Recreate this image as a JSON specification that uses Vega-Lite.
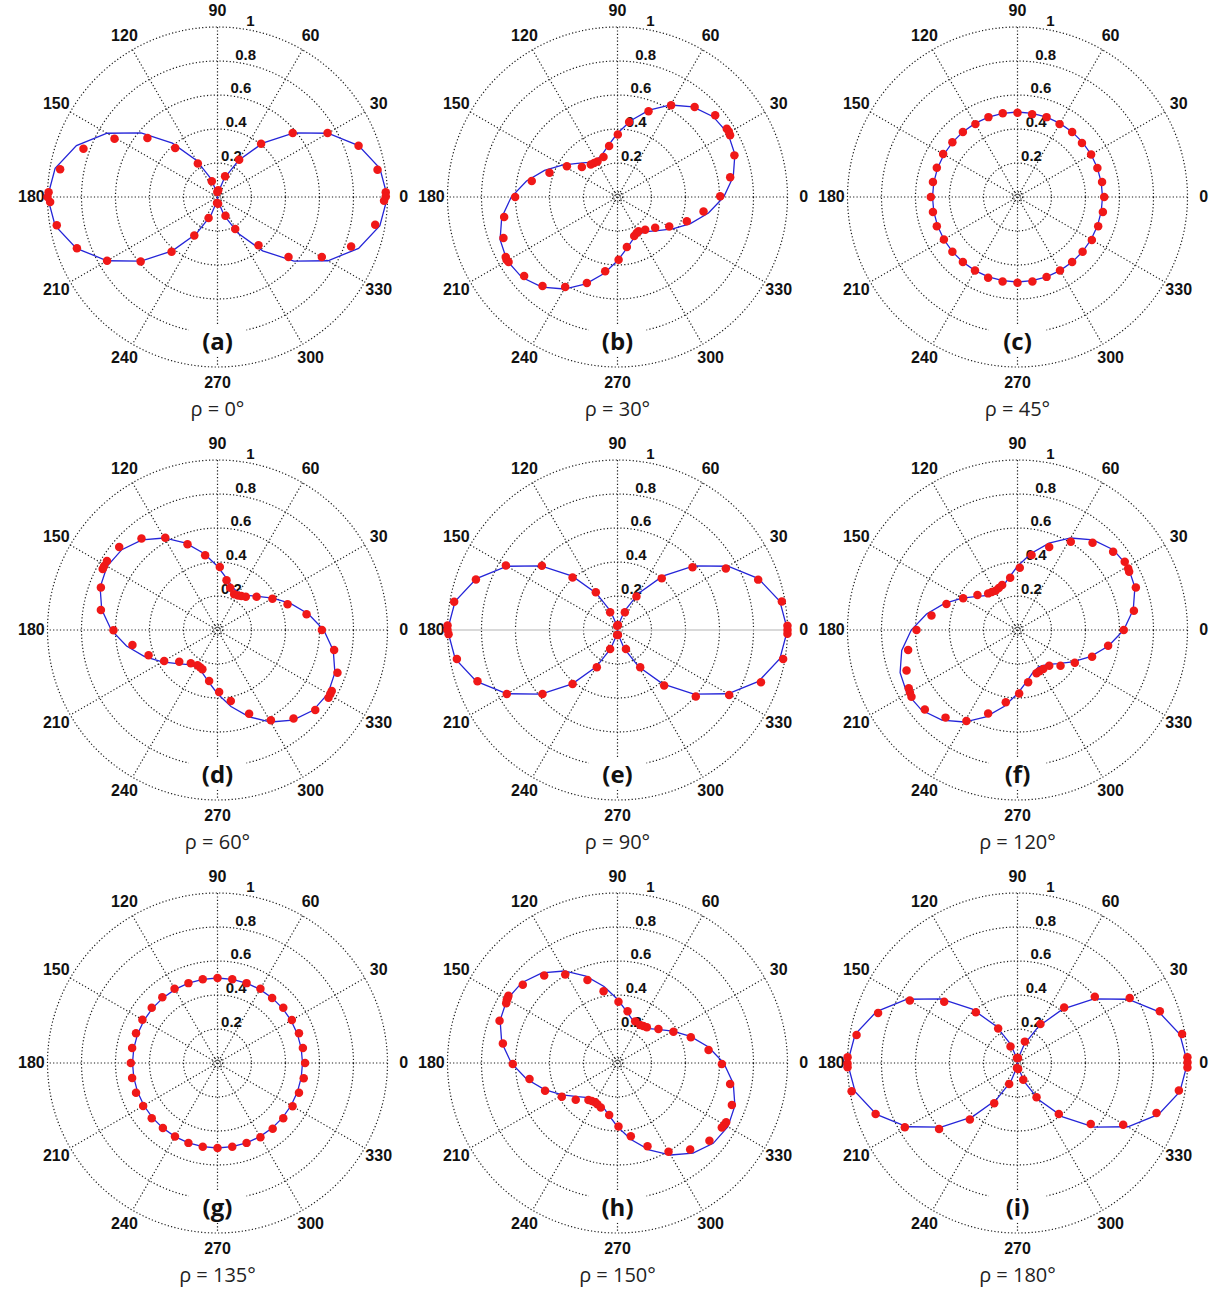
{
"$schema": "https://vega.github.io/schema/vega-lite/v6.json",
"background": "white",
"padding": {"left": 17, "top": 0, "right": 0, "bottom": 0},
"config": {"view": {"stroke": null}},
"data": {"values": [
{"k":"ring","p":["a","b","c","d","e","f","g","h","i"],"r":0.2},
{"k":"ring","p":["a","b","c","d","e","f","g","h","i"],"r":0.4},
{"k":"ring","p":["a","b","c","d","e","f","g","h","i"],"r":0.6},
{"k":"ring","p":["a","b","c","d","e","f","g","h","i"],"r":0.8},
{"k":"ring","p":["a","b","c","d","e","f","g","h","i"],"r":1},
{"k":"ring","p":["a","b","c","d","e","f","g","h","i"],"r":0.03},
{"k":"spoke","p":["a","b","c","d","f","g","h","i"],"t":0},
{"k":"spoke","p":["a","b","c","d","e","f","g","h","i"],"t":30},
{"k":"spoke","p":["a","b","c","d","e","f","g","h","i"],"t":60},
{"k":"spoke","p":["a","b","c","d","e","f","g","h","i"],"t":90},
{"k":"spoke","p":["a","b","c","d","e","f","g","h","i"],"t":120},
{"k":"spoke","p":["a","b","c","d","e","f","g","h","i"],"t":150},
{"k":"hline","p":["e"],"t":0},
{"k":"alab","p":["a","b","c","d","e","f","g","h","i"],"t":0,"lab":"0"},
{"k":"alab","p":["a","b","c","d","e","f","g","h","i"],"t":30,"lab":"30"},
{"k":"alab","p":["a","b","c","d","e","f","g","h","i"],"t":60,"lab":"60"},
{"k":"alab","p":["a","b","c","d","e","f","g","h","i"],"t":90,"lab":"90"},
{"k":"alab","p":["a","b","c","d","e","f","g","h","i"],"t":120,"lab":"120"},
{"k":"alab","p":["a","b","c","d","e","f","g","h","i"],"t":150,"lab":"150"},
{"k":"alab","p":["a","b","c","d","e","f","g","h","i"],"t":180,"lab":"180"},
{"k":"alab","p":["a","b","c","d","e","f","g","h","i"],"t":210,"lab":"210"},
{"k":"alab","p":["a","b","c","d","e","f","g","h","i"],"t":240,"lab":"240"},
{"k":"alab","p":["a","b","c","d","e","f","g","h","i"],"t":270,"lab":"270"},
{"k":"alab","p":["a","b","c","d","e","f","g","h","i"],"t":300,"lab":"300"},
{"k":"alab","p":["a","b","c","d","e","f","g","h","i"],"t":330,"lab":"330"},
{"k":"rlab","p":["a","b","c","d","e","f","g","h","i"],"r":0.2,"lab":"0.2"},
{"k":"rlab","p":["a","b","c","d","e","f","g","h","i"],"r":0.4,"lab":"0.4"},
{"k":"rlab","p":["a","b","c","d","e","f","g","h","i"],"r":0.6,"lab":"0.6"},
{"k":"rlab","p":["a","b","c","d","e","f","g","h","i"],"r":0.8,"lab":"0.8"},
{"k":"rlab","p":["a","b","c","d","e","f","g","h","i"],"r":1,"lab":"1"},
{"k":"cap","p":["a"],"lab":"(a)","rho":"ρ = 0°"},
{"k":"cap","p":["b"],"lab":"(b)","rho":"ρ = 30°"},
{"k":"cap","p":["c"],"lab":"(c)","rho":"ρ = 45°"},
{"k":"cap","p":["d"],"lab":"(d)","rho":"ρ = 60°"},
{"k":"cap","p":["e"],"lab":"(e)","rho":"ρ = 90°"},
{"k":"cap","p":["f"],"lab":"(f)","rho":"ρ = 120°"},
{"k":"cap","p":["g"],"lab":"(g)","rho":"ρ = 135°"},
{"k":"cap","p":["h"],"lab":"(h)","rho":"ρ = 150°"},
{"k":"cap","p":["i"],"lab":"(i)","rho":"ρ = 180°"},

{"k":"fit","p":["a","e","i"],"t":0,"r":1},
{"k":"fit","p":["a","e","i"],"t":10,"r":0.9698},
{"k":"fit","p":["a","e","i"],"t":20,"r":0.883},
{"k":"fit","p":["a","e","i"],"t":30,"r":0.75},
{"k":"fit","p":["a","e","i"],"t":40,"r":0.5868},
{"k":"fit","p":["a","e","i"],"t":50,"r":0.4132},
{"k":"fit","p":["a","e","i"],"t":60,"r":0.25},
{"k":"fit","p":["a","e","i"],"t":70,"r":0.117},
{"k":"fit","p":["a","e","i"],"t":80,"r":0.0302},
{"k":"fit","p":["a","e","i"],"t":90,"r":0},
{"k":"fit","p":["a","e","i"],"t":100,"r":0.0302},
{"k":"fit","p":["a","e","i"],"t":110,"r":0.117},
{"k":"fit","p":["a","e","i"],"t":120,"r":0.25},
{"k":"fit","p":["a","e","i"],"t":130,"r":0.4132},
{"k":"fit","p":["a","e","i"],"t":140,"r":0.5868},
{"k":"fit","p":["a","e","i"],"t":150,"r":0.75},
{"k":"fit","p":["a","e","i"],"t":160,"r":0.883},
{"k":"fit","p":["a","e","i"],"t":170,"r":0.9698},
{"k":"fit","p":["a","e","i"],"t":180,"r":1},
{"k":"fit","p":["a","e","i"],"t":190,"r":0.9698},
{"k":"fit","p":["a","e","i"],"t":200,"r":0.883},
{"k":"fit","p":["a","e","i"],"t":210,"r":0.75},
{"k":"fit","p":["a","e","i"],"t":220,"r":0.5868},
{"k":"fit","p":["a","e","i"],"t":230,"r":0.4132},
{"k":"fit","p":["a","e","i"],"t":240,"r":0.25},
{"k":"fit","p":["a","e","i"],"t":250,"r":0.117},
{"k":"fit","p":["a","e","i"],"t":260,"r":0.0302},
{"k":"fit","p":["a","e","i"],"t":270,"r":0},
{"k":"fit","p":["a","e","i"],"t":280,"r":0.0302},
{"k":"fit","p":["a","e","i"],"t":290,"r":0.117},
{"k":"fit","p":["a","e","i"],"t":300,"r":0.25},
{"k":"fit","p":["a","e","i"],"t":310,"r":0.4132},
{"k":"fit","p":["a","e","i"],"t":320,"r":0.5868},
{"k":"fit","p":["a","e","i"],"t":330,"r":0.75},
{"k":"fit","p":["a","e","i"],"t":340,"r":0.883},
{"k":"fit","p":["a","e","i"],"t":350,"r":0.9698},
{"k":"fit","p":["a","e","i"],"t":360,"r":1},

{"k":"fit","p":["b","f"],"t":0,"r":0.625},
{"k":"fit","p":["b","f"],"t":10,"r":0.6915},
{"k":"fit","p":["b","f"],"t":20,"r":0.7349},
{"k":"fit","p":["b","f"],"t":30,"r":0.75},
{"k":"fit","p":["b","f"],"t":40,"r":0.7349},
{"k":"fit","p":["b","f"],"t":50,"r":0.6915},
{"k":"fit","p":["b","f"],"t":60,"r":0.625},
{"k":"fit","p":["b","f"],"t":70,"r":0.5434},
{"k":"fit","p":["b","f"],"t":80,"r":0.4566},
{"k":"fit","p":["b","f"],"t":90,"r":0.375},
{"k":"fit","p":["b","f"],"t":100,"r":0.3085},
{"k":"fit","p":["b","f"],"t":110,"r":0.2651},
{"k":"fit","p":["b","f"],"t":120,"r":0.25},
{"k":"fit","p":["b","f"],"t":130,"r":0.2651},
{"k":"fit","p":["b","f"],"t":140,"r":0.3085},
{"k":"fit","p":["b","f"],"t":150,"r":0.375},
{"k":"fit","p":["b","f"],"t":160,"r":0.4566},
{"k":"fit","p":["b","f"],"t":170,"r":0.5434},
{"k":"fit","p":["b","f"],"t":180,"r":0.625},
{"k":"fit","p":["b","f"],"t":190,"r":0.6915},
{"k":"fit","p":["b","f"],"t":200,"r":0.7349},
{"k":"fit","p":["b","f"],"t":210,"r":0.75},
{"k":"fit","p":["b","f"],"t":220,"r":0.7349},
{"k":"fit","p":["b","f"],"t":230,"r":0.6915},
{"k":"fit","p":["b","f"],"t":240,"r":0.625},
{"k":"fit","p":["b","f"],"t":250,"r":0.5434},
{"k":"fit","p":["b","f"],"t":260,"r":0.4566},
{"k":"fit","p":["b","f"],"t":270,"r":0.375},
{"k":"fit","p":["b","f"],"t":280,"r":0.3085},
{"k":"fit","p":["b","f"],"t":290,"r":0.2651},
{"k":"fit","p":["b","f"],"t":300,"r":0.25},
{"k":"fit","p":["b","f"],"t":310,"r":0.2651},
{"k":"fit","p":["b","f"],"t":320,"r":0.3085},
{"k":"fit","p":["b","f"],"t":330,"r":0.375},
{"k":"fit","p":["b","f"],"t":340,"r":0.4566},
{"k":"fit","p":["b","f"],"t":350,"r":0.5434},
{"k":"fit","p":["b","f"],"t":360,"r":0.625},

{"k":"fit","p":["c","g"],"t":0,"r":0.5},
{"k":"fit","p":["c","g"],"t":10,"r":0.5},
{"k":"fit","p":["c","g"],"t":20,"r":0.5},
{"k":"fit","p":["c","g"],"t":30,"r":0.5},
{"k":"fit","p":["c","g"],"t":40,"r":0.5},
{"k":"fit","p":["c","g"],"t":50,"r":0.5},
{"k":"fit","p":["c","g"],"t":60,"r":0.5},
{"k":"fit","p":["c","g"],"t":70,"r":0.5},
{"k":"fit","p":["c","g"],"t":80,"r":0.5},
{"k":"fit","p":["c","g"],"t":90,"r":0.5},
{"k":"fit","p":["c","g"],"t":100,"r":0.5},
{"k":"fit","p":["c","g"],"t":110,"r":0.5},
{"k":"fit","p":["c","g"],"t":120,"r":0.5},
{"k":"fit","p":["c","g"],"t":130,"r":0.5},
{"k":"fit","p":["c","g"],"t":140,"r":0.5},
{"k":"fit","p":["c","g"],"t":150,"r":0.5},
{"k":"fit","p":["c","g"],"t":160,"r":0.5},
{"k":"fit","p":["c","g"],"t":170,"r":0.5},
{"k":"fit","p":["c","g"],"t":180,"r":0.5},
{"k":"fit","p":["c","g"],"t":190,"r":0.5},
{"k":"fit","p":["c","g"],"t":200,"r":0.5},
{"k":"fit","p":["c","g"],"t":210,"r":0.5},
{"k":"fit","p":["c","g"],"t":220,"r":0.5},
{"k":"fit","p":["c","g"],"t":230,"r":0.5},
{"k":"fit","p":["c","g"],"t":240,"r":0.5},
{"k":"fit","p":["c","g"],"t":250,"r":0.5},
{"k":"fit","p":["c","g"],"t":260,"r":0.5},
{"k":"fit","p":["c","g"],"t":270,"r":0.5},
{"k":"fit","p":["c","g"],"t":280,"r":0.5},
{"k":"fit","p":["c","g"],"t":290,"r":0.5},
{"k":"fit","p":["c","g"],"t":300,"r":0.5},
{"k":"fit","p":["c","g"],"t":310,"r":0.5},
{"k":"fit","p":["c","g"],"t":320,"r":0.5},
{"k":"fit","p":["c","g"],"t":330,"r":0.5},
{"k":"fit","p":["c","g"],"t":340,"r":0.5},
{"k":"fit","p":["c","g"],"t":350,"r":0.5},
{"k":"fit","p":["c","g"],"t":360,"r":0.5},

{"k":"fit","p":["d","h"],"t":0,"r":0.625},
{"k":"fit","p":["d","h"],"t":10,"r":0.5434},
{"k":"fit","p":["d","h"],"t":20,"r":0.4566},
{"k":"fit","p":["d","h"],"t":30,"r":0.375},
{"k":"fit","p":["d","h"],"t":40,"r":0.3085},
{"k":"fit","p":["d","h"],"t":50,"r":0.2651},
{"k":"fit","p":["d","h"],"t":60,"r":0.25},
{"k":"fit","p":["d","h"],"t":70,"r":0.2651},
{"k":"fit","p":["d","h"],"t":80,"r":0.3085},
{"k":"fit","p":["d","h"],"t":90,"r":0.375},
{"k":"fit","p":["d","h"],"t":100,"r":0.4566},
{"k":"fit","p":["d","h"],"t":110,"r":0.5434},
{"k":"fit","p":["d","h"],"t":120,"r":0.625},
{"k":"fit","p":["d","h"],"t":130,"r":0.6915},
{"k":"fit","p":["d","h"],"t":140,"r":0.7349},
{"k":"fit","p":["d","h"],"t":150,"r":0.75},
{"k":"fit","p":["d","h"],"t":160,"r":0.7349},
{"k":"fit","p":["d","h"],"t":170,"r":0.6915},
{"k":"fit","p":["d","h"],"t":180,"r":0.625},
{"k":"fit","p":["d","h"],"t":190,"r":0.5434},
{"k":"fit","p":["d","h"],"t":200,"r":0.4566},
{"k":"fit","p":["d","h"],"t":210,"r":0.375},
{"k":"fit","p":["d","h"],"t":220,"r":0.3085},
{"k":"fit","p":["d","h"],"t":230,"r":0.2651},
{"k":"fit","p":["d","h"],"t":240,"r":0.25},
{"k":"fit","p":["d","h"],"t":250,"r":0.2651},
{"k":"fit","p":["d","h"],"t":260,"r":0.3085},
{"k":"fit","p":["d","h"],"t":270,"r":0.375},
{"k":"fit","p":["d","h"],"t":280,"r":0.4566},
{"k":"fit","p":["d","h"],"t":290,"r":0.5434},
{"k":"fit","p":["d","h"],"t":300,"r":0.625},
{"k":"fit","p":["d","h"],"t":310,"r":0.6915},
{"k":"fit","p":["d","h"],"t":320,"r":0.7349},
{"k":"fit","p":["d","h"],"t":330,"r":0.75},
{"k":"fit","p":["d","h"],"t":340,"r":0.7349},
{"k":"fit","p":["d","h"],"t":350,"r":0.6915},
{"k":"fit","p":["d","h"],"t":360,"r":0.625},

{"k":"pt","p":["a"],"t":1.6,"r":0.99},
{"k":"pt","p":["a"],"t":0.2,"r":0.99},
{"k":"pt","p":["a"],"t":358.7,"r":0.98},
{"k":"pt","p":["a"],"t":9.7,"r":0.955},
{"k":"pt","p":["a"],"t":20,"r":0.883},
{"k":"pt","p":["a"],"t":30.2,"r":0.749},
{"k":"pt","p":["a"],"t":40.4,"r":0.581},
{"k":"pt","p":["a"],"t":50.7,"r":0.405},
{"k":"pt","p":["a"],"t":59.9,"r":0.254},
{"k":"pt","p":["a"],"t":70,"r":0.13},
{"k":"pt","p":["a"],"t":84,"r":0.04},
{"k":"pt","p":["a"],"t":92,"r":0.03},
{"k":"pt","p":["a"],"t":110,"r":0.098},
{"k":"pt","p":["a"],"t":120.5,"r":0.228},
{"k":"pt","p":["a"],"t":130.8,"r":0.381},
{"k":"pt","p":["a"],"t":139.9,"r":0.539},
{"k":"pt","p":["a"],"t":150.5,"r":0.696},
{"k":"pt","p":["a"],"t":160.2,"r":0.838},
{"k":"pt","p":["a"],"t":170,"r":0.94},
{"k":"pt","p":["a"],"t":178.4,"r":0.994},
{"k":"pt","p":["a"],"t":180,"r":1},
{"k":"pt","p":["a"],"t":181.7,"r":0.985},
{"k":"pt","p":["a"],"t":190,"r":0.96},
{"k":"pt","p":["a"],"t":200,"r":0.88},
{"k":"pt","p":["a"],"t":210,"r":0.75},
{"k":"pt","p":["a"],"t":220,"r":0.59},
{"k":"pt","p":["a"],"t":230,"r":0.42},
{"k":"pt","p":["a"],"t":239,"r":0.265},
{"k":"pt","p":["a"],"t":247,"r":0.134},
{"k":"pt","p":["a"],"t":265,"r":0.035},
{"k":"pt","p":["a"],"t":275,"r":0.04},
{"k":"pt","p":["a"],"t":293,"r":0.12},
{"k":"pt","p":["a"],"t":299,"r":0.215},
{"k":"pt","p":["a"],"t":310.3,"r":0.373},
{"k":"pt","p":["a"],"t":319.8,"r":0.547},
{"k":"pt","p":["a"],"t":330.1,"r":0.708},
{"k":"pt","p":["a"],"t":339.7,"r":0.838},
{"k":"pt","p":["a"],"t":350,"r":0.942},

{"k":"pt","p":["b"],"t":0.4,"r":0.604},
{"k":"pt","p":["b"],"t":10,"r":0.673},
{"k":"pt","p":["b"],"t":19.6,"r":0.73},
{"k":"pt","p":["b"],"t":28.7,"r":0.755},
{"k":"pt","p":["b"],"t":30.5,"r":0.76},
{"k":"pt","p":["b"],"t":32,"r":0.758},
{"k":"pt","p":["b"],"t":39.9,"r":0.749},
{"k":"pt","p":["b"],"t":49.4,"r":0.697},
{"k":"pt","p":["b"],"t":59.7,"r":0.625},
{"k":"pt","p":["b"],"t":70.1,"r":0.536},
{"k":"pt","p":["b"],"t":81.2,"r":0.447},
{"k":"pt","p":["b"],"t":89.7,"r":0.367},
{"k":"pt","p":["b"],"t":99.3,"r":0.304},
{"k":"pt","p":["b"],"t":109.3,"r":0.249},
{"k":"pt","p":["b"],"t":119.3,"r":0.24},
{"k":"pt","p":["b"],"t":124.5,"r":0.243},
{"k":"pt","p":["b"],"t":129.5,"r":0.247},
{"k":"pt","p":["b"],"t":139.9,"r":0.274},
{"k":"pt","p":["b"],"t":148.8,"r":0.348},
{"k":"pt","p":["b"],"t":160.3,"r":0.425},
{"k":"pt","p":["b"],"t":169.4,"r":0.513},
{"k":"pt","p":["b"],"t":180,"r":0.602},
{"k":"pt","p":["b"],"t":190,"r":0.677},
{"k":"pt","p":["b"],"t":199.8,"r":0.713},
{"k":"pt","p":["b"],"t":208.2,"r":0.746},
{"k":"pt","p":["b"],"t":209.5,"r":0.75},
{"k":"pt","p":["b"],"t":210.8,"r":0.746},
{"k":"pt","p":["b"],"t":220.2,"r":0.719},
{"k":"pt","p":["b"],"t":229.9,"r":0.685},
{"k":"pt","p":["b"],"t":239.8,"r":0.612},
{"k":"pt","p":["b"],"t":250.4,"r":0.537},
{"k":"pt","p":["b"],"t":260.6,"r":0.443},
{"k":"pt","p":["b"],"t":271,"r":0.369},
{"k":"pt","p":["b"],"t":280.6,"r":0.299},
{"k":"pt","p":["b"],"t":293.1,"r":0.25},
{"k":"pt","p":["b"],"t":298,"r":0.24},
{"k":"pt","p":["b"],"t":301.5,"r":0.237},
{"k":"pt","p":["b"],"t":310.3,"r":0.252},
{"k":"pt","p":["b"],"t":320.8,"r":0.286},
{"k":"pt","p":["b"],"t":330.4,"r":0.35},
{"k":"pt","p":["b"],"t":340.7,"r":0.432},
{"k":"pt","p":["b"],"t":350.5,"r":0.513},

{"k":"pt","p":["c"],"t":0,"r":0.51},
{"k":"pt","p":["c"],"t":10,"r":0.505},
{"k":"pt","p":["c"],"t":20,"r":0.5},
{"k":"pt","p":["c"],"t":30,"r":0.5},
{"k":"pt","p":["c"],"t":40,"r":0.495},
{"k":"pt","p":["c"],"t":50,"r":0.5},
{"k":"pt","p":["c"],"t":60,"r":0.495},
{"k":"pt","p":["c"],"t":70,"r":0.5},
{"k":"pt","p":["c"],"t":80,"r":0.495},
{"k":"pt","p":["c"],"t":90,"r":0.495},
{"k":"pt","p":["c"],"t":100,"r":0.5},
{"k":"pt","p":["c"],"t":110,"r":0.5},
{"k":"pt","p":["c"],"t":120,"r":0.495},
{"k":"pt","p":["c"],"t":130,"r":0.5},
{"k":"pt","p":["c"],"t":140,"r":0.5},
{"k":"pt","p":["c"],"t":150,"r":0.505},
{"k":"pt","p":["c"],"t":160,"r":0.505},
{"k":"pt","p":["c"],"t":170,"r":0.505},
{"k":"pt","p":["c"],"t":180,"r":0.51},
{"k":"pt","p":["c"],"t":190,"r":0.505},
{"k":"pt","p":["c"],"t":200,"r":0.505},
{"k":"pt","p":["c"],"t":210,"r":0.5},
{"k":"pt","p":["c"],"t":220,"r":0.5},
{"k":"pt","p":["c"],"t":230,"r":0.5},
{"k":"pt","p":["c"],"t":240,"r":0.5},
{"k":"pt","p":["c"],"t":250,"r":0.505},
{"k":"pt","p":["c"],"t":260,"r":0.505},
{"k":"pt","p":["c"],"t":270,"r":0.505},
{"k":"pt","p":["c"],"t":280,"r":0.505},
{"k":"pt","p":["c"],"t":290,"r":0.5},
{"k":"pt","p":["c"],"t":300,"r":0.5},
{"k":"pt","p":["c"],"t":310,"r":0.5},
{"k":"pt","p":["c"],"t":320,"r":0.5},
{"k":"pt","p":["c"],"t":330,"r":0.505},
{"k":"pt","p":["c"],"t":340,"r":0.505},
{"k":"pt","p":["c"],"t":350,"r":0.51},

{"k":"pt","p":["d"],"t":0,"r":0.614},
{"k":"pt","p":["d"],"t":10,"r":0.532},
{"k":"pt","p":["d"],"t":20.1,"r":0.439},
{"k":"pt","p":["d"],"t":29.7,"r":0.372},
{"k":"pt","p":["d"],"t":40.5,"r":0.302},
{"k":"pt","p":["d"],"t":49.6,"r":0.257},
{"k":"pt","p":["d"],"t":55,"r":0.245},
{"k":"pt","p":["d"],"t":59,"r":0.236},
{"k":"pt","p":["d"],"t":65,"r":0.232},
{"k":"pt","p":["d"],"t":73.3,"r":0.26},
{"k":"pt","p":["d"],"t":79.7,"r":0.297},
{"k":"pt","p":["d"],"t":87.9,"r":0.371},
{"k":"pt","p":["d"],"t":99.4,"r":0.445},
{"k":"pt","p":["d"],"t":109.3,"r":0.534},
{"k":"pt","p":["d"],"t":119.5,"r":0.624},
{"k":"pt","p":["d"],"t":129.7,"r":0.7},
{"k":"pt","p":["d"],"t":139.8,"r":0.757},
{"k":"pt","p":["d"],"t":148,"r":0.767},
{"k":"pt","p":["d"],"t":150.5,"r":0.766},
{"k":"pt","p":["d"],"t":152,"r":0.765},
{"k":"pt","p":["d"],"t":160,"r":0.73},
{"k":"pt","p":["d"],"t":170.3,"r":0.696},
{"k":"pt","p":["d"],"t":180.2,"r":0.612},
{"k":"pt","p":["d"],"t":190,"r":0.508},
{"k":"pt","p":["d"],"t":200.2,"r":0.432},
{"k":"pt","p":["d"],"t":210.2,"r":0.363},
{"k":"pt","p":["d"],"t":219.6,"r":0.292},
{"k":"pt","p":["d"],"t":231.3,"r":0.251},
{"k":"pt","p":["d"],"t":240.5,"r":0.239},
{"k":"pt","p":["d"],"t":245,"r":0.242},
{"k":"pt","p":["d"],"t":249,"r":0.248},
{"k":"pt","p":["d"],"t":260.7,"r":0.304},
{"k":"pt","p":["d"],"t":271.5,"r":0.365},
{"k":"pt","p":["d"],"t":280.6,"r":0.425},
{"k":"pt","p":["d"],"t":290.7,"r":0.526},
{"k":"pt","p":["d"],"t":300.6,"r":0.617},
{"k":"pt","p":["d"],"t":310.7,"r":0.686},
{"k":"pt","p":["d"],"t":320.7,"r":0.743},
{"k":"pt","p":["d"],"t":328.6,"r":0.765},
{"k":"pt","p":["d"],"t":330.5,"r":0.763},
{"k":"pt","p":["d"],"t":331.9,"r":0.762},
{"k":"pt","p":["d"],"t":340.4,"r":0.749},
{"k":"pt","p":["d"],"t":350.3,"r":0.696},

{"k":"pt","p":["e"],"t":1.4,"r":1},
{"k":"pt","p":["e"],"t":0,"r":1},
{"k":"pt","p":["e"],"t":358.7,"r":1},
{"k":"pt","p":["e"],"t":9.8,"r":0.981},
{"k":"pt","p":["e"],"t":19.7,"r":0.879},
{"k":"pt","p":["e"],"t":29.6,"r":0.733},
{"k":"pt","p":["e"],"t":39.9,"r":0.575},
{"k":"pt","p":["e"],"t":49.4,"r":0.4},
{"k":"pt","p":["e"],"t":60.6,"r":0.227},
{"k":"pt","p":["e"],"t":67.5,"r":0.113},
{"k":"pt","p":["e"],"t":85,"r":0.03},
{"k":"pt","p":["e"],"t":95,"r":0.025},
{"k":"pt","p":["e"],"t":112.5,"r":0.113},
{"k":"pt","p":["e"],"t":119.9,"r":0.256},
{"k":"pt","p":["e"],"t":130.5,"r":0.407},
{"k":"pt","p":["e"],"t":139.6,"r":0.584},
{"k":"pt","p":["e"],"t":150,"r":0.758},
{"k":"pt","p":["e"],"t":160.4,"r":0.884},
{"k":"pt","p":["e"],"t":170.2,"r":0.975},
{"k":"pt","p":["e"],"t":178.5,"r":1},
{"k":"pt","p":["e"],"t":180,"r":1},
{"k":"pt","p":["e"],"t":181.4,"r":0.994},
{"k":"pt","p":["e"],"t":190.2,"r":0.96},
{"k":"pt","p":["e"],"t":200.1,"r":0.877},
{"k":"pt","p":["e"],"t":210,"r":0.752},
{"k":"pt","p":["e"],"t":220.5,"r":0.58},
{"k":"pt","p":["e"],"t":230.2,"r":0.413},
{"k":"pt","p":["e"],"t":241,"r":0.251},
{"k":"pt","p":["e"],"t":248.9,"r":0.12},
{"k":"pt","p":["e"],"t":265,"r":0.03},
{"k":"pt","p":["e"],"t":275,"r":0.03},
{"k":"pt","p":["e"],"t":294,"r":0.122},
{"k":"pt","p":["e"],"t":301.3,"r":0.257},
{"k":"pt","p":["e"],"t":310,"r":0.427},
{"k":"pt","p":["e"],"t":319.7,"r":0.604},
{"k":"pt","p":["e"],"t":329.8,"r":0.76},
{"k":"pt","p":["e"],"t":340,"r":0.898},
{"k":"pt","p":["e"],"t":350.1,"r":0.989},

{"k":"pt","p":["f"],"t":0,"r":0.625},
{"k":"pt","p":["f"],"t":9.4,"r":0.694},
{"k":"pt","p":["f"],"t":19.8,"r":0.74},
{"k":"pt","p":["f"],"t":27.6,"r":0.741},
{"k":"pt","p":["f"],"t":29.1,"r":0.745},
{"k":"pt","p":["f"],"t":32.5,"r":0.748},
{"k":"pt","p":["f"],"t":39.3,"r":0.727},
{"k":"pt","p":["f"],"t":49.3,"r":0.677},
{"k":"pt","p":["f"],"t":58.9,"r":0.607},
{"k":"pt","p":["f"],"t":69.1,"r":0.523},
{"k":"pt","p":["f"],"t":79.4,"r":0.449},
{"k":"pt","p":["f"],"t":87.9,"r":0.367},
{"k":"pt","p":["f"],"t":98,"r":0.31},
{"k":"pt","p":["f"],"t":108.8,"r":0.28},
{"k":"pt","p":["f"],"t":114,"r":0.27},
{"k":"pt","p":["f"],"t":119.2,"r":0.265},
{"k":"pt","p":["f"],"t":124,"r":0.27},
{"k":"pt","p":["f"],"t":128.7,"r":0.276},
{"k":"pt","p":["f"],"t":138.8,"r":0.313},
{"k":"pt","p":["f"],"t":149.8,"r":0.37},
{"k":"pt","p":["f"],"t":159.9,"r":0.445},
{"k":"pt","p":["f"],"t":170.5,"r":0.513},
{"k":"pt","p":["f"],"t":180,"r":0.594},
{"k":"pt","p":["f"],"t":190.4,"r":0.654},
{"k":"pt","p":["f"],"t":200.1,"r":0.695},
{"k":"pt","p":["f"],"t":208.2,"r":0.726},
{"k":"pt","p":["f"],"t":210.2,"r":0.732},
{"k":"pt","p":["f"],"t":212.2,"r":0.737},
{"k":"pt","p":["f"],"t":220.6,"r":0.718},
{"k":"pt","p":["f"],"t":230.6,"r":0.667},
{"k":"pt","p":["f"],"t":240.7,"r":0.614},
{"k":"pt","p":["f"],"t":250.6,"r":0.52},
{"k":"pt","p":["f"],"t":260.8,"r":0.431},
{"k":"pt","p":["f"],"t":271.5,"r":0.373},
{"k":"pt","p":["f"],"t":281.5,"r":0.314},
{"k":"pt","p":["f"],"t":293.7,"r":0.278},
{"k":"pt","p":["f"],"t":298,"r":0.275},
{"k":"pt","p":["f"],"t":303.4,"r":0.275},
{"k":"pt","p":["f"],"t":311.6,"r":0.281},
{"k":"pt","p":["f"],"t":320.3,"r":0.329},
{"k":"pt","p":["f"],"t":330.3,"r":0.388},
{"k":"pt","p":["f"],"t":340.3,"r":0.466},
{"k":"pt","p":["f"],"t":350.2,"r":0.541},

{"k":"pt","p":["g"],"t":0,"r":0.515},
{"k":"pt","p":["g"],"t":10,"r":0.51},
{"k":"pt","p":["g"],"t":20,"r":0.51},
{"k":"pt","p":["g"],"t":30,"r":0.505},
{"k":"pt","p":["g"],"t":40,"r":0.505},
{"k":"pt","p":["g"],"t":50,"r":0.5},
{"k":"pt","p":["g"],"t":60,"r":0.505},
{"k":"pt","p":["g"],"t":70,"r":0.5},
{"k":"pt","p":["g"],"t":80,"r":0.5},
{"k":"pt","p":["g"],"t":90,"r":0.5},
{"k":"pt","p":["g"],"t":100,"r":0.5},
{"k":"pt","p":["g"],"t":110,"r":0.5},
{"k":"pt","p":["g"],"t":120,"r":0.505},
{"k":"pt","p":["g"],"t":130,"r":0.505},
{"k":"pt","p":["g"],"t":140,"r":0.505},
{"k":"pt","p":["g"],"t":150,"r":0.51},
{"k":"pt","p":["g"],"t":160,"r":0.51},
{"k":"pt","p":["g"],"t":170,"r":0.51},
{"k":"pt","p":["g"],"t":180,"r":0.51},
{"k":"pt","p":["g"],"t":190,"r":0.51},
{"k":"pt","p":["g"],"t":200,"r":0.51},
{"k":"pt","p":["g"],"t":210,"r":0.505},
{"k":"pt","p":["g"],"t":220,"r":0.505},
{"k":"pt","p":["g"],"t":230,"r":0.5},
{"k":"pt","p":["g"],"t":240,"r":0.5},
{"k":"pt","p":["g"],"t":250,"r":0.5},
{"k":"pt","p":["g"],"t":260,"r":0.5},
{"k":"pt","p":["g"],"t":270,"r":0.5},
{"k":"pt","p":["g"],"t":280,"r":0.5},
{"k":"pt","p":["g"],"t":290,"r":0.5},
{"k":"pt","p":["g"],"t":300,"r":0.505},
{"k":"pt","p":["g"],"t":310,"r":0.505},
{"k":"pt","p":["g"],"t":320,"r":0.505},
{"k":"pt","p":["g"],"t":330,"r":0.51},
{"k":"pt","p":["g"],"t":340,"r":0.51},
{"k":"pt","p":["g"],"t":350,"r":0.515},

{"k":"pt","p":["h"],"t":8.1,"r":0.541},
{"k":"pt","p":["h"],"t":19.3,"r":0.457},
{"k":"pt","p":["h"],"t":29.2,"r":0.377},
{"k":"pt","p":["h"],"t":39.7,"r":0.313},
{"k":"pt","p":["h"],"t":50.6,"r":0.272},
{"k":"pt","p":["h"],"t":55,"r":0.265},
{"k":"pt","p":["h"],"t":59.2,"r":0.26},
{"k":"pt","p":["h"],"t":67,"r":0.266},
{"k":"pt","p":["h"],"t":79,"r":0.31},
{"k":"pt","p":["h"],"t":89.1,"r":0.361},
{"k":"pt","p":["h"],"t":101,"r":0.43},
{"k":"pt","p":["h"],"t":109.9,"r":0.519},
{"k":"pt","p":["h"],"t":120.6,"r":0.604},
{"k":"pt","p":["h"],"t":130,"r":0.671},
{"k":"pt","p":["h"],"t":140.4,"r":0.723},
{"k":"pt","p":["h"],"t":148.3,"r":0.754},
{"k":"pt","p":["h"],"t":149.5,"r":0.75},
{"k":"pt","p":["h"],"t":150.4,"r":0.749},
{"k":"pt","p":["h"],"t":151.8,"r":0.743},
{"k":"pt","p":["h"],"t":160.3,"r":0.737},
{"k":"pt","p":["h"],"t":170.3,"r":0.684},
{"k":"pt","p":["h"],"t":180.5,"r":0.616},
{"k":"pt","p":["h"],"t":190.3,"r":0.526},
{"k":"pt","p":["h"],"t":200.9,"r":0.456},
{"k":"pt","p":["h"],"t":211.2,"r":0.383},
{"k":"pt","p":["h"],"t":221.3,"r":0.327},
{"k":"pt","p":["h"],"t":231.9,"r":0.277},
{"k":"pt","p":["h"],"t":236,"r":0.27},
{"k":"pt","p":["h"],"t":240.4,"r":0.266},
{"k":"pt","p":["h"],"t":244,"r":0.27},
{"k":"pt","p":["h"],"t":249.4,"r":0.279},
{"k":"pt","p":["h"],"t":260.9,"r":0.31},
{"k":"pt","p":["h"],"t":270.9,"r":0.373},
{"k":"pt","p":["h"],"t":280.3,"r":0.438},
{"k":"pt","p":["h"],"t":289.8,"r":0.521},
{"k":"pt","p":["h"],"t":299.9,"r":0.602},
{"k":"pt","p":["h"],"t":310,"r":0.665},
{"k":"pt","p":["h"],"t":319.8,"r":0.708},
{"k":"pt","p":["h"],"t":328.3,"r":0.721},
{"k":"pt","p":["h"],"t":330,"r":0.725},
{"k":"pt","p":["h"],"t":331.4,"r":0.728},
{"k":"pt","p":["h"],"t":339.8,"r":0.717},
{"k":"pt","p":["h"],"t":349.4,"r":0.674},
{"k":"pt","p":["h"],"t":359.5,"r":0.614},

{"k":"pt","p":["i"],"t":0.2,"r":1},
{"k":"pt","p":["i"],"t":1.9,"r":1},
{"k":"pt","p":["i"],"t":358.5,"r":1},
{"k":"pt","p":["i"],"t":10,"r":0.983},
{"k":"pt","p":["i"],"t":20,"r":0.891},
{"k":"pt","p":["i"],"t":30.1,"r":0.763},
{"k":"pt","p":["i"],"t":40.6,"r":0.599},
{"k":"pt","p":["i"],"t":50,"r":0.427},
{"k":"pt","p":["i"],"t":59.5,"r":0.266},
{"k":"pt","p":["i"],"t":71,"r":0.133},
{"k":"pt","p":["i"],"t":84,"r":0.03},
{"k":"pt","p":["i"],"t":96,"r":0.03},
{"k":"pt","p":["i"],"t":112.8,"r":0.106},
{"k":"pt","p":["i"],"t":119.2,"r":0.233},
{"k":"pt","p":["i"],"t":129.4,"r":0.386},
{"k":"pt","p":["i"],"t":140.1,"r":0.562},
{"k":"pt","p":["i"],"t":149.9,"r":0.732},
{"k":"pt","p":["i"],"t":160.3,"r":0.871},
{"k":"pt","p":["i"],"t":170.1,"r":0.961},
{"k":"pt","p":["i"],"t":178.1,"r":1},
{"k":"pt","p":["i"],"t":180.2,"r":1},
{"k":"pt","p":["i"],"t":181.4,"r":1},
{"k":"pt","p":["i"],"t":189.7,"r":0.99},
{"k":"pt","p":["i"],"t":199.8,"r":0.887},
{"k":"pt","p":["i"],"t":209.7,"r":0.763},
{"k":"pt","p":["i"],"t":220.1,"r":0.603},
{"k":"pt","p":["i"],"t":229.9,"r":0.435},
{"k":"pt","p":["i"],"t":240,"r":0.274},
{"k":"pt","p":["i"],"t":248.4,"r":0.133},
{"k":"pt","p":["i"],"t":264,"r":0.03},
{"k":"pt","p":["i"],"t":276,"r":0.035},
{"k":"pt","p":["i"],"t":289,"r":0.104},
{"k":"pt","p":["i"],"t":299,"r":0.231},
{"k":"pt","p":["i"],"t":309,"r":0.386},
{"k":"pt","p":["i"],"t":320.2,"r":0.561},
{"k":"pt","p":["i"],"t":329.7,"r":0.72},
{"k":"pt","p":["i"],"t":340.2,"r":0.869},
{"k":"pt","p":["i"],"t":350.3,"r":0.963}
]},
"transform": [
  {"flatten": ["p"]},
  {"calculate": "floor(indexof('abcdefghi', datum.p)/3)", "as": "R"},
  {"calculate": "indexof('abcdefghi', datum.p) % 3", "as": "C"},
  {"calculate": "datum.r*cos(datum.t*PI/180)", "as": "x"},
  {"calculate": "datum.r*sin(datum.t*PI/180)", "as": "y"}
],
"facet": {
  "row": {"field": "R", "type": "ordinal", "title": null, "header": {"labels": false, "title": null, "labelPadding": 0, "titlePadding": 0}},
  "column": {"field": "C", "type": "ordinal", "title": null, "header": {"labels": false, "title": null, "labelPadding": 0, "titlePadding": 0}}
},
"spacing": {"row": 0, "column": 0},
"spec": {
  "width": 399,
  "height": 433,
  "encoding": {
    "x": {"field": "x", "type": "quantitative", "scale": {"domain": [-1.1735, 1.1735], "nice": false, "zero": false}, "axis": null},
    "y": {"field": "y", "type": "quantitative", "scale": {"domain": [-1.3882, 1.1588], "nice": false, "zero": false}, "axis": null}
  },
  "layer": [
    {
      "transform": [
        {"filter": "datum.k == 'ring'"},
        {"calculate": "0", "as": "x"},
        {"calculate": "0", "as": "y"}
      ],
      "mark": {"type": "point", "shape": "circle", "filled": false, "stroke": "#1a1a1a", "strokeWidth": 1.2, "strokeDash": [1.2, 2.2], "opacity": 1},
      "encoding": {
        "size": {"field": "r", "type": "quantitative", "scale": {"type": "pow", "exponent": 2, "domain": [0, 1], "range": [0, 115600]}, "legend": null}
      }
    },
    {
      "transform": [
        {"filter": "datum.k == 'spoke'"},
        {"calculate": "cos(datum.t*PI/180)", "as": "x"},
        {"calculate": "sin(datum.t*PI/180)", "as": "y"},
        {"calculate": "-datum.x", "as": "x2"},
        {"calculate": "-datum.y", "as": "y2"}
      ],
      "mark": {"type": "rule", "stroke": "#1a1a1a", "strokeWidth": 1.2, "strokeDash": [1.2, 2.2]},
      "encoding": {"x2": {"field": "x2"}, "y2": {"field": "y2"}}
    },
    {
      "transform": [
        {"filter": "datum.k == 'hline'"},
        {"calculate": "cos(datum.t*PI/180)", "as": "x"},
        {"calculate": "sin(datum.t*PI/180)", "as": "y"},
        {"calculate": "-datum.x", "as": "x2"},
        {"calculate": "-datum.y", "as": "y2"}
      ],
      "mark": {"type": "rule", "stroke": "#cccccc", "strokeWidth": 1.3},
      "encoding": {"x2": {"field": "x2"}, "y2": {"field": "y2"}}
    },
    {
      "transform": [
        {"filter": "datum.k == 'alab'"},
        {"calculate": "1.095*cos(datum.t*PI/180)", "as": "x"},
        {"calculate": "1.095*sin(datum.t*PI/180)", "as": "y"}
      ],
      "mark": {"type": "text", "font": "Liberation Sans", "fontWeight": "bold", "fontSize": 16, "color": "#111111", "align": "center", "baseline": "middle"},
      "encoding": {"text": {"field": "lab", "type": "nominal"}}
    },
    {
      "transform": [
        {"filter": "datum.k == 'rlab'"},
        {"calculate": "(datum.r+0.01)*cos(82*PI/180)", "as": "x"},
        {"calculate": "(datum.r+0.01)*sin(82*PI/180)", "as": "y"}
      ],
      "mark": {"type": "text", "font": "Liberation Sans", "fontWeight": "bold", "fontSize": 15, "color": "#111111", "align": "center", "baseline": "middle", "dx": 9, "dy": -6},
      "encoding": {"text": {"field": "lab", "type": "nominal"}}
    },
    {
      "transform": [
        {"filter": "datum.k == 'cap'"},
        {"calculate": "-0.17", "as": "x"},
        {"calculate": "0.17", "as": "x2"},
        {"calculate": "-0.75", "as": "y"},
        {"calculate": "-0.94", "as": "y2"}
      ],
      "mark": {"type": "rect", "fill": "white"},
      "encoding": {"x2": {"field": "x2"}, "y2": {"field": "y2"}}
    },
    {
      "transform": [
        {"filter": "datum.k == 'cap'"},
        {"calculate": "0", "as": "x"},
        {"calculate": "-0.86", "as": "y"}
      ],
      "mark": {"type": "text", "font": "Open Sans", "fontWeight": "bold", "fontSize": 24, "color": "#111111", "align": "center", "baseline": "middle"},
      "encoding": {"text": {"field": "lab", "type": "nominal"}}
    },
    {
      "transform": [
        {"filter": "datum.k == 'cap'"},
        {"calculate": "0", "as": "x"},
        {"calculate": "-1.25", "as": "y"}
      ],
      "mark": {"type": "text", "font": "Open Sans", "fontSize": 20, "color": "#222222", "align": "center", "baseline": "middle"},
      "encoding": {"text": {"field": "rho", "type": "nominal"}}
    },
    {
      "transform": [{"filter": "datum.k == 'fit'"}],
      "mark": {"type": "line", "stroke": "#2525d8", "strokeWidth": 1.3},
      "encoding": {"order": {"field": "t", "type": "quantitative"}}
    },
    {
      "transform": [{"filter": "datum.k == 'pt'"}],
      "mark": {"type": "circle", "size": 72, "color": "#f01818", "opacity": 1}
    }
  ]
}
}
